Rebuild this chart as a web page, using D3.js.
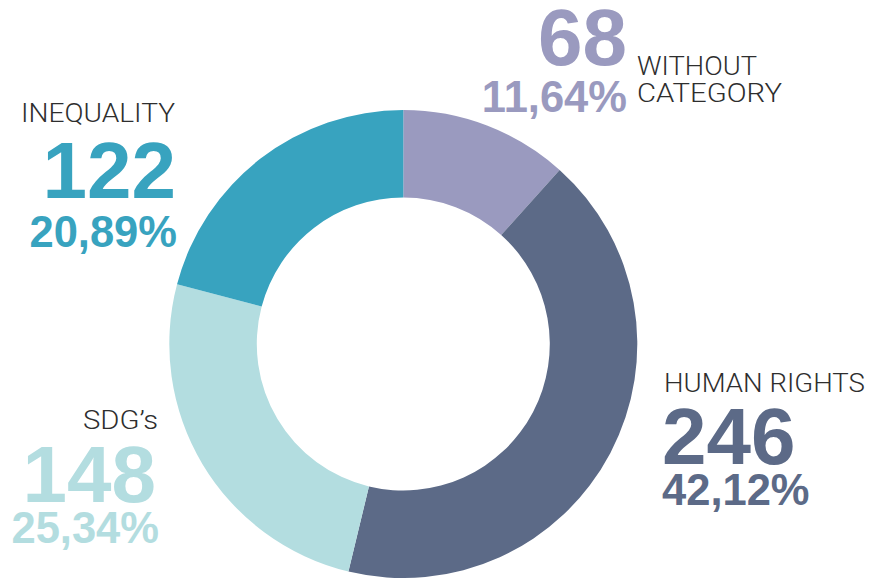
<!DOCTYPE html>
<html>
<head>
<meta charset="utf-8">
<script src="https://cdn.jsdelivr.net/npm/d3@7"></script>
<style>
  html, body { margin: 0; padding: 0; background: #ffffff; }
  svg { display: block; }
</style>
</head>
<body>
<svg id="chart" width="872" height="578"></svg>
<script>
// ---- data ----
const categories = ["WITHOUT CATEGORY", "HUMAN RIGHTS", "SDG’s", "INEQUALITY"];
const values = [68, 246, 148, 122];
const colors = ["#9a9abf", "#5c6a87", "#b3dde0", "#38a3bf"];

// ---- layout (positions only) ----
const W = 872, H = 578;
const cx = 403.3, cy = 344, R = 234, r = 146.5;
const total = d3.sum(values);
const pctFmt = v => d3.format(".2f")(v / total * 100).replace(".", ",") + "%";

const svg = d3.select("#chart");
const g = svg.append("g").attr("transform", `translate(${cx},${cy})`);

const pie = d3.pie().sort(null).value(d => d)(values);
const arc = d3.arc().innerRadius(r).outerRadius(R);

g.selectAll("path").data(pie).enter().append("path")
  .attr("d", arc)
  .attr("fill", (d, i) => colors[i]);

// label layout per category: label lines, number and percent placement
const layout = [
  { labelLines: ["WITHOUT", "CATEGORY"], labelX: 637, labelY: [75, 102], labelW: [120, 145], labelAnchor: "start",
    numX: 627, numY: 65, numAnchor: "end", pctX: 627, pctY: 112, pctAnchor: "end" },
  { labelLines: ["HUMAN RIGHTS"], labelX: 664, labelY: [392], labelW: [201], labelAnchor: "start",
    numX: 662, numY: 464, numAnchor: "start", pctX: 662, pctY: 505, pctAnchor: "start" },
  { labelLines: ["SDG’s"], labelX: 158, labelY: [429], labelW: [75], labelAnchor: "end",
    numX: 156, numY: 502, numAnchor: "end", pctX: 159, pctY: 543, pctAnchor: "end" },
  { labelLines: ["INEQUALITY"], labelX: 21, labelY: [122], labelW: [154], labelAnchor: "start",
    numX: 176, numY: 198, numAnchor: "end", pctX: 177, pctY: 247, pctAnchor: "end" }
];

const labelFont = "Roboto, 'Liberation Sans', Arial, sans-serif";
const numFont = "'Liberation Sans', Arial, Helvetica, sans-serif";

values.forEach((v, i) => {
  const L = layout[i];
  L.labelLines.forEach((line, j) => {
    svg.append("text")
      .attr("x", L.labelX)
      .attr("y", L.labelY[j])
      .attr("text-anchor", L.labelAnchor)
      .attr("font-family", labelFont)
      .attr("font-weight", 300)
      .attr("font-size", 26)
      .attr("fill", "#2e2e2e")
      .attr("textLength", L.labelW[j])
      .attr("lengthAdjust", "spacingAndGlyphs")
      .text(line);
  });
  svg.append("text")
    .attr("x", L.numX).attr("y", L.numY)
    .attr("text-anchor", L.numAnchor)
    .attr("font-family", numFont)
    .attr("font-weight", 700)
    .attr("font-size", 80)
    .attr("fill", colors[i])
    .text(v);
  svg.append("text")
    .attr("x", L.pctX).attr("y", L.pctY)
    .attr("text-anchor", L.pctAnchor)
    .attr("font-family", numFont)
    .attr("font-weight", 700)
    .attr("font-size", 43.5)
    .attr("fill", colors[i])
    .text(pctFmt(v));
});
</script>
</body>
</html>
